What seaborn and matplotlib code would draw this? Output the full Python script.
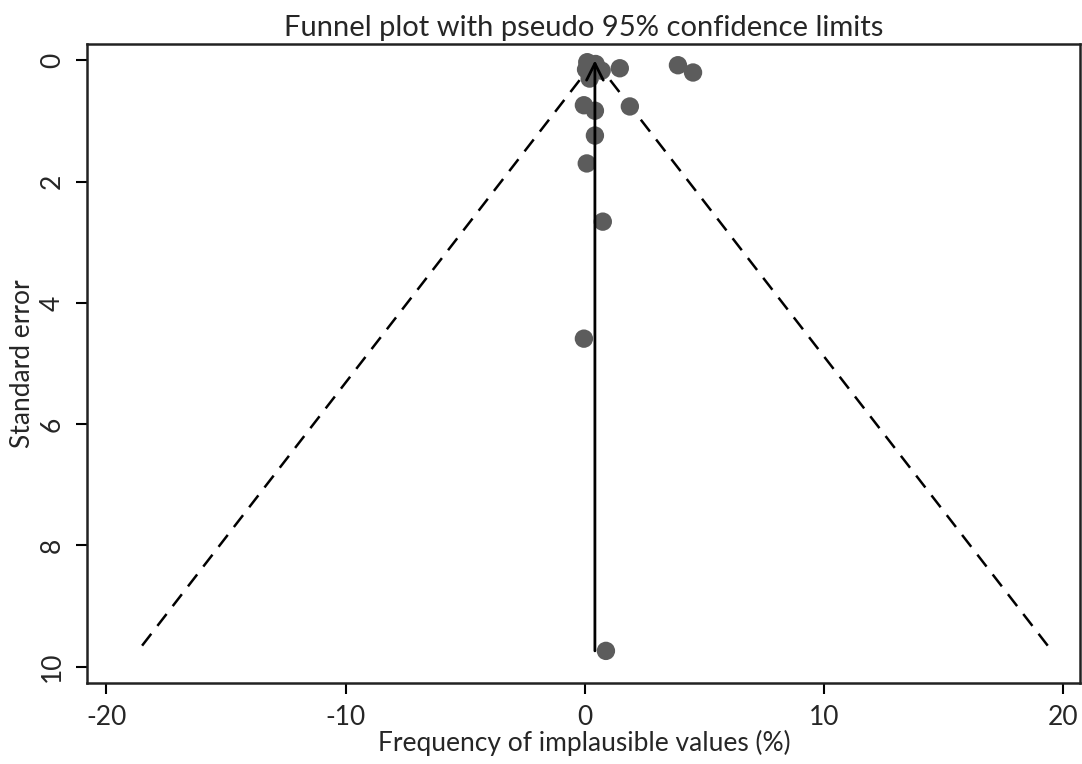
import matplotlib
matplotlib.use("Agg")
import matplotlib.pyplot as plt
import seaborn as sns
import numpy as np
import pandas as pd

# Study estimates: effect (%) and its standard error
effect = [0.10, 0.45, 0.70, 0.20, 0.05, 1.46, 3.89, 4.52, -0.04, 0.42, 1.88,
          0.42, 0.08, 0.75, -0.04, 0.88]
std_err = [0.03, 0.06, 0.17, 0.30, 0.15, 0.13, 0.08, 0.20, 0.74, 0.83, 0.76,
           1.24, 1.70, 2.66, 4.59, 9.74]

pooled = 0.42          # pooled estimate (vertical line)
z95 = 1.96             # pseudo 95% limit multiplier
se_range = [0.0, 9.74]  # extent of the funnel along the standard-error axis

x_ticks = [-20, -10, 0, 10, 20]
y_ticks = [0, 2, 4, 6, 8, 10]

title = "Funnel plot with pseudo 95% confidence limits"
x_label = "Frequency of implausible values (%)"
y_label = "Standard error"

sns.set_style("white")
plt.rcParams["font.family"] = ["Lato", "DejaVu Sans"]

fig = plt.figure(figsize=(10.82, 7.64), dpi=100)
ax = fig.add_axes([0.0807, 0.106, 0.9179, 0.8364])

df = pd.DataFrame({"effect": effect, "se": std_err})

# Pseudo confidence limits
se_arr = np.array(se_range)
ax.plot(pooled - z95 * se_arr, se_arr, color="black", lw=1.8,
        dashes=(6, 4), zorder=1)
ax.plot(pooled + z95 * se_arr, se_arr, color="black", lw=1.8,
        dashes=(6, 4), zorder=1)

sns.scatterplot(data=df, x="effect", y="se", ax=ax, s=175, color="#5c5c5c",
                edgecolor="none", linewidth=0, zorder=2)

# Pooled estimate line with an open arrowhead at SE = 0
ax.annotate("", xy=(pooled, se_range[0]), xytext=(pooled, se_range[1]),
            arrowprops=dict(arrowstyle="->", lw=2.0, color="black",
                            mutation_scale=30, shrinkA=0, shrinkB=0),
            zorder=3)

ax.set_xlim(-20.79, 20.71)
ax.set_ylim(10.27, -0.27)
ax.set_xticks(x_ticks)
ax.set_yticks(y_ticks)
ax.set_xticklabels([str(t) for t in x_ticks], fontsize=19)
ax.set_yticklabels([str(t) for t in y_ticks], fontsize=19, rotation=90,
                   va="center")
ax.tick_params(axis="both", which="major", direction="out", length=8,
               width=1.5, color="black", bottom=True, left=True, pad=8)

for side in ax.spines.values():
    side.set_visible(True)
    side.set_color("#222222")
    side.set_linewidth(1.8)

ax.set_xlabel(x_label, fontsize=19, labelpad=0)
ax.set_ylabel(y_label, fontsize=19, labelpad=4)
ax.set_title(title, fontsize=21, pad=6)

fig.savefig("out.png", dpi=100)
